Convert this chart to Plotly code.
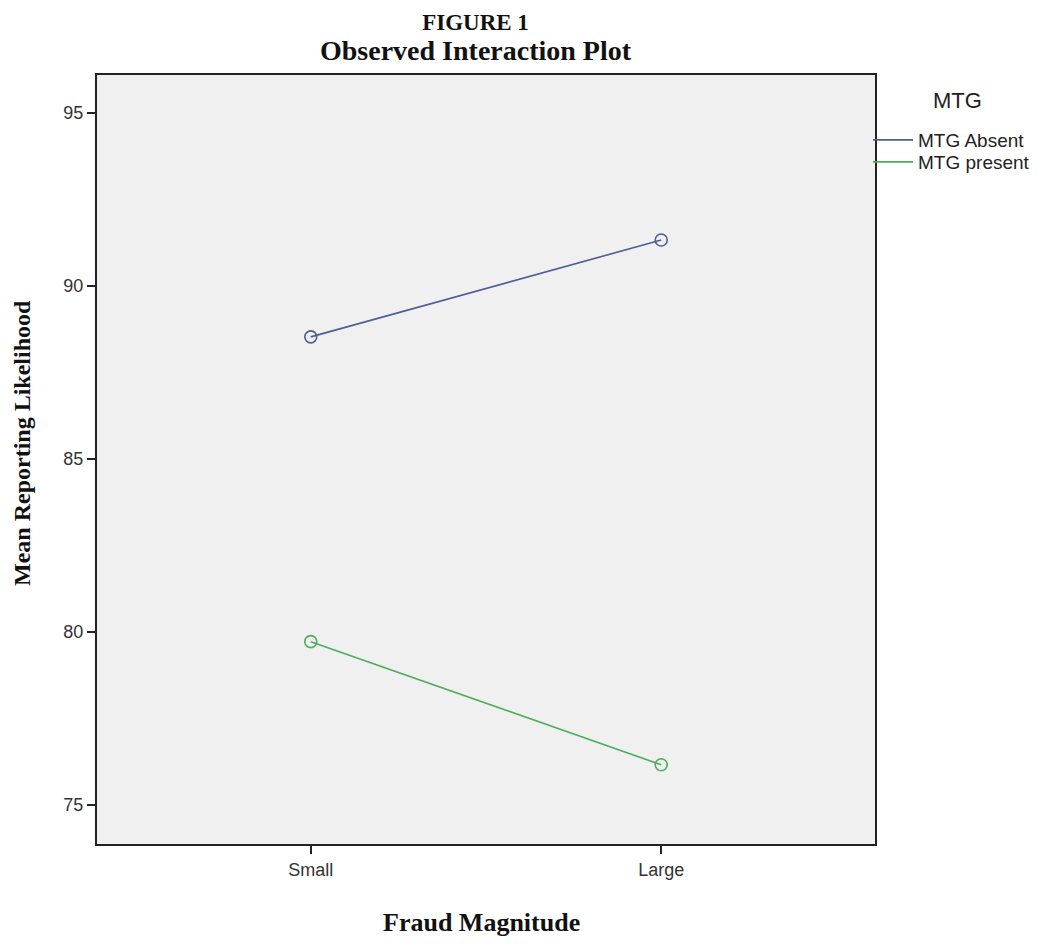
import plotly.graph_objects as go

categories = ["Small", "Large"]
mtg_absent = [88.53, 91.33]
mtg_present = [79.72, 76.16]
series_names = ["MTG Absent", "MTG present"]
y_ticks = [75, 80, 85, 90, 95]

colors = ["#4f5c96", "#4cae5c"]
legend_ids = ["legend", "legend2"]
fig = go.Figure()
for name, vals, col, lg in zip(series_names, [mtg_absent, mtg_present], colors, legend_ids):
    fig.add_trace(go.Scatter(
        x=categories, y=vals, name=name, mode="lines+markers", showlegend=False,
        line=dict(color=col, width=1.6),
        marker=dict(symbol="circle-open", size=12, color=col, line=dict(width=1.6)),
    ))
    # legend entry: line only, like the original
    fig.add_trace(go.Scatter(
        x=[None], y=[None], name=name, mode="lines", legend=lg,
        line=dict(color=col, width=1.6), showlegend=True,
    ))

sans = "Liberation Sans, Arial, sans-serif"
serif = "Liberation Serif, Times New Roman, serif"
axis_font = dict(family=sans, size=18, color="#333333")

W, H = 1026, 934
L, R, T, B = 89, 159, 67, 98
pw = W - L - R
ph = H - T - B
OFF = 8  # page body margin

def px_x(sx):
    return (sx - OFF - L) / pw

def py_p(sy):
    return 1 - (sy - OFF - T) / ph

def cx(sx):
    return (sx - OFF) / W

def cy(sy):
    return 1 - (sy - OFF) / H

legend_common = dict(
    xref="container", yref="container", xanchor="left", yanchor="middle",
    font=dict(family=sans, size=19, color="#222222"),
    bgcolor="rgba(0,0,0,0)", itemwidth=40, borderwidth=0,
)

fig.update_layout(
    width=W, height=H,
    margin=dict(l=L, r=R, t=T, b=B, autoexpand=False),
    paper_bgcolor="white",
    plot_bgcolor="#f0f0f0",
    showlegend=True,
    legend=dict(x=cx(868), y=cy(140), **legend_common),
    legend2=dict(x=cx(868), y=cy(162), **legend_common),
    xaxis=dict(
        type="category", range=[-0.61, 1.61],
        showgrid=False, zeroline=False,
        showline=True, linecolor="#222222", linewidth=2, mirror=True,
        ticks="outside", ticklen=8, tickwidth=2, tickcolor="#222222",
        tickfont=axis_font,
    ),
    yaxis=dict(
        range=[73.87, 96.10],
        tickvals=y_ticks,
        showgrid=False, zeroline=False,
        showline=True, linecolor="#222222", linewidth=2, mirror=True,
        ticks="outside", ticklen=8, tickwidth=2, tickcolor="#222222",
        tickfont=axis_font,
    ),
    annotations=[
        dict(text="<b>FIGURE 1</b><br><b><span style='font-size:28px'>Observed Interaction Plot</span></b>",
             xref="paper", yref="paper",
             x=px_x(476), y=py_p(38), xanchor="center", yanchor="middle", showarrow=False,
             align="center",
             font=dict(family=serif, size=23, color="#111111")),
        dict(text="<b>Mean Reporting Likelihood</b>", xref="paper", yref="paper",
             x=px_x(22), y=py_p(443), xanchor="center", yanchor="middle",
             textangle=-90, showarrow=False,
             font=dict(family=serif, size=24, color="#111111")),
        dict(text="<b>Fraud Magnitude</b>", xref="paper", yref="paper",
             x=px_x(481), y=py_p(922), xanchor="center", yanchor="middle", showarrow=False,
             font=dict(family=serif, size=26, color="#111111")),
        dict(text="MTG", xref="paper", yref="paper",
             x=px_x(957), y=py_p(100), xanchor="center", yanchor="middle", showarrow=False,
             font=dict(family=sans, size=22, color="#222222")),
    ],
)

fig.write_html("out.html")
